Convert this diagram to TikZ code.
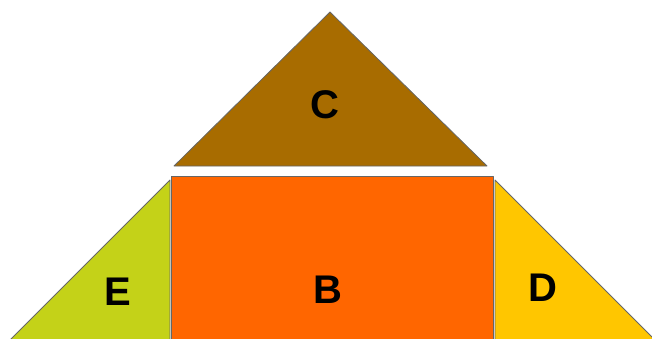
\documentclass[tikz,border=0pt]{standalone}
\usepackage{fontspec}
\setmainfont{Liberation Sans}
\usetikzlibrary{positioning}
\definecolor{roofbrown}{RGB}{168,108,0}
\definecolor{wallorange}{RGB}{255,102,0}
\definecolor{sidegreen}{RGB}{196,210,24}
\definecolor{sideyellow}{RGB}{255,198,0}

\begin{document}
\begin{tikzpicture}[x=1pt, y=-1pt,
    part/.style={draw=gray!80!black, line width=0.8pt, line join=round},
    letter/.style={font=\fontsize{40}{40}\selectfont\bfseries, text=black}]
        \useasboundingbox (0,0) rectangle (652,338);

        % Roof
        \fill[roofbrown, part] (174,166) -- (330,12) -- (487,166) -- cycle;

        % Wall
        \fill[wallorange, part] (171,176) rectangle (493,340);

        % Side pieces
        \fill[sidegreen, part] (170,180) -- (170,340) -- (10,340) -- cycle;
        \fill[sideyellow, part] (495,180) -- (655,340) -- (495,340) -- cycle;

        % Labels
        \node[letter] (roofC) at (325,105) {C};
        \node[letter] (wallB) at (328,290) {B};
        \node[letter] (sideE) at (118,292) {E};
        \node[letter] (sideD) at (543,288) {D};
    \end{tikzpicture}
\end{document}
